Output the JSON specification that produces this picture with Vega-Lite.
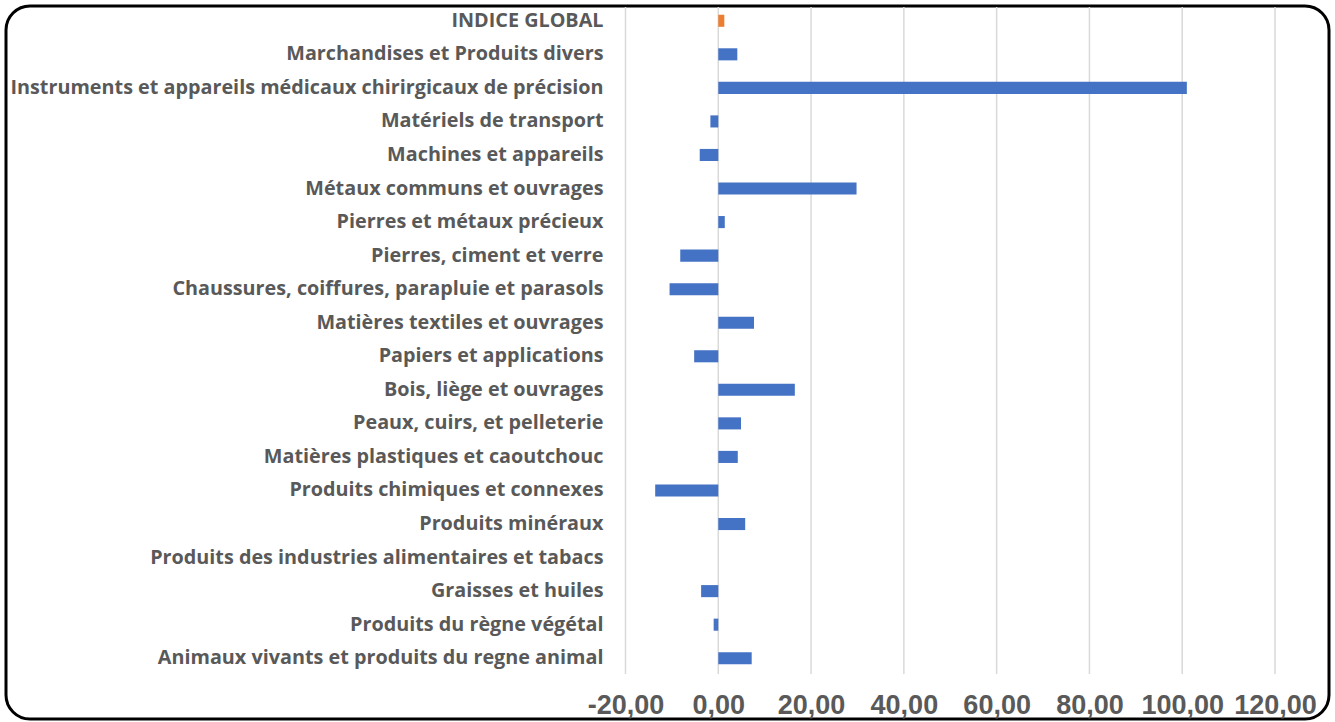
{
  "$schema": "https://vega.github.io/schema/vega-lite/v6.json",
  "autosize": {"type": "fit", "contains": "padding"},
  "width": 1335,
  "height": 722,
  "padding": {"top": 6, "left": 6, "right": 6, "bottom": 3},
  "background": "white",
  "config": {
    "view": {"stroke": "black", "strokeWidth": 3, "cornerRadius": 24}
  },
  "datasets": {
    "ticks": [
      {"tick": -20}, {"tick": 0}, {"tick": 20}, {"tick": 40},
      {"tick": 60}, {"tick": 80}, {"tick": 100}, {"tick": 120}
    ],
    "bars": [
      {"cat": "INDICE GLOBAL", "val": 1.3, "grp": "global"},
      {"cat": "Marchandises et Produits divers", "val": 4.1, "grp": "sect"},
      {"cat": "Instruments et appareils médicaux chirirgicaux de précision", "val": 101.0, "grp": "sect"},
      {"cat": "Matériels de transport", "val": -1.7, "grp": "sect"},
      {"cat": "Machines et appareils", "val": -4.0, "grp": "sect"},
      {"cat": "Métaux communs et ouvrages", "val": 29.8, "grp": "sect"},
      {"cat": "Pierres et métaux précieux", "val": 1.4, "grp": "sect"},
      {"cat": "Pierres, ciment et verre", "val": -8.2, "grp": "sect"},
      {"cat": "Chaussures, coiffures, parapluie et parasols", "val": -10.5, "grp": "sect"},
      {"cat": "Matières textiles et ouvrages", "val": 7.7, "grp": "sect"},
      {"cat": "Papiers et applications", "val": -5.2, "grp": "sect"},
      {"cat": "Bois, liège et ouvrages", "val": 16.5, "grp": "sect"},
      {"cat": "Peaux, cuirs, et pelleterie", "val": 4.9, "grp": "sect"},
      {"cat": "Matières plastiques et caoutchouc", "val": 4.2, "grp": "sect"},
      {"cat": "Produits chimiques et connexes", "val": -13.6, "grp": "sect"},
      {"cat": "Produits minéraux", "val": 5.8, "grp": "sect"},
      {"cat": "Produits des industries alimentaires et tabacs", "val": 0, "grp": "sect"},
      {"cat": "Graisses et huiles", "val": -3.7, "grp": "sect"},
      {"cat": "Produits du règne végétal", "val": -1.0, "grp": "sect"},
      {"cat": "Animaux vivants et produits du regne animal", "val": 7.2, "grp": "sect"}
    ]
  },
  "layer": [
    {
      "data": {"name": "ticks"},
      "mark": {"type": "rule", "color": "#d9d9d9", "strokeWidth": 1.5},
      "encoding": {
        "x": {
          "field": "tick",
          "type": "quantitative",
          "scale": {"domain": [-20, 120], "range": [619.5, 1269], "nice": false, "zero": false}
        },
        "y": {
          "datum": 0,
          "type": "quantitative",
          "scale": {"domain": [0, 1], "range": [1, 668], "nice": false, "zero": false},
          "axis": null
        },
        "y2": {"datum": 1}
      }
    },
    {
      "data": {"name": "bars"},
      "mark": {"type": "bar"},
      "encoding": {
        "y": {
          "field": "cat",
          "type": "nominal",
          "sort": null,
          "scale": {"range": [-2, 669], "paddingInner": 0.64, "paddingOuter": 0.32},
          "axis": {
            "title": null,
            "orient": "left",
            "offset": -597,
            "ticks": false,
            "domain": false,
            "grid": false,
            "labelPadding": 0,
            "labelFont": "Open Sans",
            "labelFontWeight": "bold",
            "labelFontSize": 19.8,
            "labelColor": "#595959",
            "labelLimit": 700
          }
        },
        "x": {
          "field": "val",
          "type": "quantitative",
          "scale": {"domain": [-20, 120], "range": [619.5, 1269], "nice": false, "zero": false},
          "axis": {
            "title": null,
            "values": [-20, 0, 20, 40, 60, 80, 100, 120],
            "format": ".2f",
            "labelExpr": "replace(replace(datum.label, '.', ','), '\u2212', '-')",
            "orient": "bottom",
            "labelPadding": -27,
            "ticks": false,
            "domain": false,
            "grid": false,
            "labelFont": "Liberation Sans",
            "labelFontWeight": "bold",
            "labelFontSize": 27,
            "labelColor": "#595959",
            "labelFlush": false,
            "labelOverlap": false
          }
        },
        "color": {
          "field": "grp",
          "type": "nominal",
          "scale": {"domain": ["global", "sect"], "range": ["#ED7D31", "#4472C4"]},
          "legend": null
        }
      }
    }
  ],
  "resolve": {"scale": {"y": "independent"}, "axis": {"y": "independent"}}
}
